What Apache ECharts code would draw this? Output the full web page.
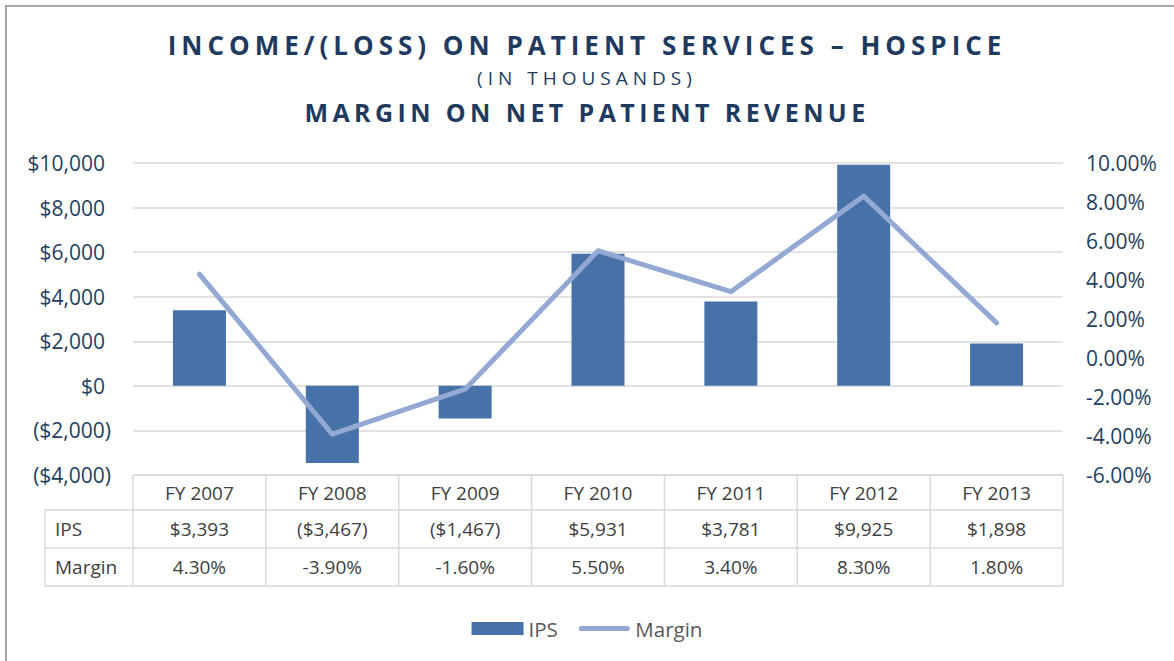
<!DOCTYPE html>
<html>
<head>
<meta charset="utf-8">
<script src="https://cdn.jsdelivr.net/npm/echarts@6/dist/echarts.min.js"></script>
<style>
  html, body { margin: 0; padding: 0; background: #fff; }
  #chart { width: 1174px; height: 661px; }
</style>
</head>
<body>
<div id="chart"></div>
<script>
// Hospice income/(loss) on patient services, in thousands, and margin on net patient revenue
const categories = ['FY 2007', 'FY 2008', 'FY 2009', 'FY 2010', 'FY 2011', 'FY 2012', 'FY 2013'];
const ipsValues = [3393, -3467, -1467, 5931, 3781, 9925, 1898];
const marginValues = [4.3, -3.9, -1.6, 5.5, 3.4, 8.3, 1.8];
const seriesNames = ['IPS', 'Margin'];
const titleLines = [
  'INCOME/(LOSS) ON PATIENT SERVICES – HOSPICE',
  '(IN THOUSANDS)',
  'MARGIN ON NET PATIENT REVENUE'
];

const FONT = '"Open Sans", "Noto Sans", sans-serif';
const AXIS_TEXT = '#243F60';
const TABLE_TEXT = '#404040';
const RULE = '#D9D9D9';
const BAR_COLOR = '#4672A8';
const LINE_COLOR = '#93A8D3';

// legend swatch for the margin line: a 5px round-ended stroke centred in the 13px item box
const LINE_ICON = 'path://M0,0 M51,13 M2.5,4 L48.5,4 A2.5,2.5 0 0 1 48.5,9 L2.5,9 A2.5,2.5 0 0 1 2.5,4 Z';

function money(v) {
  const s = '$' + Math.abs(v).toLocaleString('en-US');
  return v < 0 ? '(' + s + ')' : s;
}
function pct(v) {
  return v.toFixed(2) + '%';
}

const chart = echarts.init(document.getElementById('chart'), null, { renderer: 'svg' });

const option = {
  animation: false,
  backgroundColor: '#ffffff',
  textStyle: { fontFamily: FONT },
  title: [
    {
      text: titleLines[0], left: 'center', top: 27,
      textStyle: { fontFamily: FONT, fontSize: 26, fontWeight: 'bold', color: '#1F3A5F' }
    },
    {
      text: titleLines[1], left: 'center', top: 63,
      textStyle: { fontFamily: FONT, fontSize: 19, fontWeight: 'normal', color: '#1F3A5F' }
    },
    {
      text: titleLines[2], left: 'center', top: 94,
      textStyle: { fontFamily: FONT, fontSize: 25, fontWeight: 'bold', color: '#1F3A5F' }
    }
  ],
  legend: {
    data: [{ name: seriesNames[0], icon: 'rect' }, { name: seriesNames[1], icon: LINE_ICON }],
    left: 'center',
    top: 613,
    itemWidth: 52,
    itemHeight: 13,
    itemGap: 21,
    textStyle: { fontFamily: FONT, fontSize: 20.5, color: '#595959' }
  },
  grid: { left: 133, right: 111, top: 163, bottom: 186, containLabel: false },
  xAxis: {
    type: 'category',
    data: categories,
    boundaryGap: true,
    axisLine: { show: false },
    axisTick: { show: false },
    axisLabel: { show: false },
    splitLine: { show: false }
  },
  yAxis: [
    {
      type: 'value',
      min: -4000, max: 10000, interval: 2000,
      axisLine: { show: false },
      axisTick: { show: false },
      splitLine: { show: true, lineStyle: { color: RULE, width: 1.5 } },
      axisLabel: {
        margin: 22,
        formatter: v => v < 0 ? '{n|' + money(v) + '}' : '{p|' + money(v) + '}',
        rich: {
          p: { fontFamily: FONT, fontSize: 21, color: AXIS_TEXT, padding: [0, 6, 0, 0] },
          n: { fontFamily: FONT, fontSize: 21, color: AXIS_TEXT }
        }
      }
    },
    {
      type: 'value',
      position: 'right',
      min: -6, max: 10, interval: 2,
      axisLine: { show: false },
      axisTick: { show: false },
      splitLine: { show: false },
      axisLabel: {
        margin: 23,
        fontFamily: FONT, fontSize: 21, color: AXIS_TEXT,
        formatter: v => pct(v)
      }
    }
  ],
  series: [
    {
      name: seriesNames[0],
      type: 'bar',
      data: ipsValues,
      barWidth: 53,
      itemStyle: { color: BAR_COLOR },
      yAxisIndex: 0
    },
    {
      name: seriesNames[1],
      type: 'line',
      data: marginValues,
      yAxisIndex: 1,
      showSymbol: false,
      symbol: 'none',
      lineStyle: { color: LINE_COLOR, width: 5, cap: 'round', join: 'round' },
      itemStyle: { color: LINE_COLOR }
    }
  ]
};

chart.setOption(option);

// Data table under the plot, laid out on the category axis bands
const xFirst = chart.convertToPixel({ xAxisIndex: 0 }, categories[0]);
const xSecond = chart.convertToPixel({ xAxisIndex: 0 }, categories[1]);
const band = xSecond - xFirst;
const tableTop = chart.convertToPixel({ yAxisIndex: 0 }, -4000);
const colLeft = xFirst - band / 2;
const colRight = colLeft + band * categories.length;
const labelLeft = colLeft - 88;
const headerH = 35;
const rowH = 38;
const rowTops = [tableTop + headerH, tableTop + headerH + rowH];
const tableBottom = tableTop + headerH + rowH * 2;

const graphics = [];
const lineStyle = { stroke: RULE, lineWidth: 1.5 };

// chart frame
graphics.push({
  type: 'rect', silent: true,
  shape: { x: 6, y: 6, width: 1300, height: 800 },
  style: { fill: 'none', stroke: '#A6A6A6', lineWidth: 2 }
});

// horizontal rules
graphics.push({ type: 'line', silent: true, shape: { x1: colLeft, y1: tableTop, x2: colRight, y2: tableTop }, style: lineStyle });
[rowTops[0], rowTops[1], tableBottom].forEach(y => {
  graphics.push({ type: 'line', silent: true, shape: { x1: labelLeft, y1: y, x2: colRight, y2: y }, style: lineStyle });
});
// vertical rules
for (let i = 0; i <= categories.length; i++) {
  const x = colLeft + band * i;
  graphics.push({ type: 'line', silent: true, shape: { x1: x, y1: tableTop, x2: x, y2: tableBottom }, style: lineStyle });
}
graphics.push({ type: 'line', silent: true, shape: { x1: labelLeft, y1: rowTops[0], x2: labelLeft, y2: tableBottom }, style: lineStyle });

const cellText = (text, x, y, align) => ({
  type: 'text', silent: true,
  x: x, y: y,
  style: {
    text: text, fontFamily: FONT, fontSize: 19, fill: TABLE_TEXT,
    textAlign: align, textVerticalAlign: 'middle'
  }
});

// header and value rows
categories.forEach((c, i) => {
  const cx = chart.convertToPixel({ xAxisIndex: 0 }, c);
  graphics.push(cellText(c, cx, tableTop + headerH / 2, 'center'));
  graphics.push(cellText(money(ipsValues[i]), cx, rowTops[0] + rowH / 2, 'center'));
  graphics.push(cellText(pct(marginValues[i]), cx, rowTops[1] + rowH / 2, 'center'));
});
// row labels
seriesNames.forEach((n, r) => {
  graphics.push(cellText(n, labelLeft + 10, rowTops[r] + rowH / 2, 'left'));
});

chart.setOption({ graphic: graphics });

// tracked-out title lettering
const titleSpacing = {};
titleSpacing[titleLines[0]] = 5;
titleSpacing[titleLines[1]] = 5;
titleSpacing[titleLines[2]] = 4.4;
function spaceTitles() {
  document.querySelectorAll('#chart text').forEach(t => {
    const s = titleSpacing[t.textContent];
    if (s != null) t.style.letterSpacing = s + 'px';
  });
}
spaceTitles();
chart.on('finished', spaceTitles);
</script>
</body>
</html>
